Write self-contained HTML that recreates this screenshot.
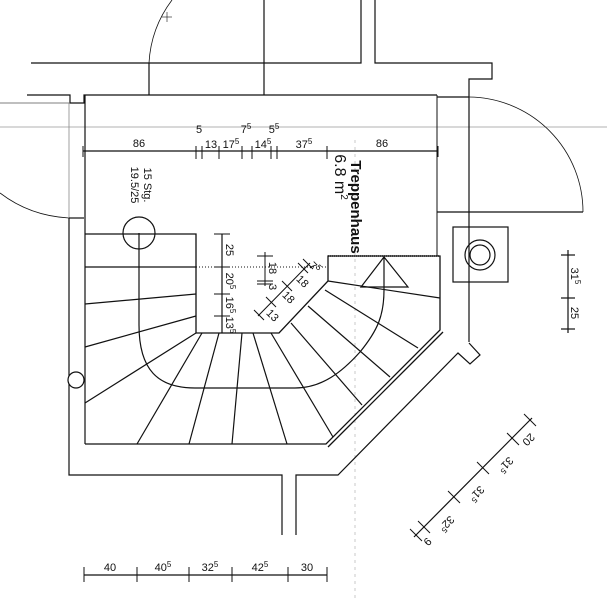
<!DOCTYPE html>
<html><head><meta charset="utf-8"><style>
html,body{margin:0;padding:0;background:#fff}
svg{display:block}
text{font-family:"Liberation Sans",sans-serif;fill:#111}
</style></head><body>
<svg width="607" height="608" viewBox="0 0 607 608" xmlns="http://www.w3.org/2000/svg">
<g fill="none" stroke="#111" stroke-width="1.2">
<line x1="0" y1="127" x2="607" y2="127" stroke="#999" stroke-width="0.8"/>
<line x1="355" y1="140" x2="355" y2="600" stroke="#bbb" stroke-width="0.8" stroke-dasharray="3,4"/>
<path d="M31,63 H361 V0"/>
<path d="M375,0 V63 H492 V79 H469 V342"/>
<line x1="264" y1="0" x2="264" y2="95"/>
<line x1="149" y1="63" x2="149" y2="95"/>
<path d="M149,63 A115,115 0 0 1 172,0" stroke-width="0.8"/>
<path d="M27,95 H70 V103 H84 V95 H437"/>
<line x1="0" y1="103" x2="70" y2="103" stroke-width="0.8" stroke="#555"/>
<path d="M0,193 Q30,216 69,218" stroke-width="0.8"/>
<line x1="69" y1="103" x2="69" y2="218" stroke="#888" stroke-width="0.8"/>
<line x1="69" y1="218" x2="84" y2="218"/>
<path d="M69,218 V475 H282 V535"/>
<line x1="85" y1="95" x2="85" y2="444"/>
<path d="M296,535 V475 H338 L458,353 L470,364 L480,355 L469,343"/>
<line x1="437" y1="97" x2="469" y2="97"/>
<path d="M469,97 A115,115 0 0 1 583,212" stroke-width="0.8"/>
<line x1="437" y1="212" x2="583" y2="212"/>
<line x1="437" y1="95" x2="437" y2="256" stroke-width="1"/>
<rect x="453" y="227" width="55" height="55"/>
<circle cx="480" cy="255" r="15"/>
<circle cx="480" cy="255" r="10"/>
<path d="M85,234 H196 V333 H279 L328,281 V256 H440 V330 L326,444 H85" stroke-width="1.3"/>
<line x1="328" y1="447" x2="443" y2="332" stroke-width="1.3"/>
<line x1="196" y1="267" x2="328" y2="267" stroke-dasharray="1,2" stroke-width="1"/>
<line x1="328" y1="256" x2="440" y2="256" stroke-dasharray="1,1" stroke-width="1.5"/>
<line x1="85" y1="267" x2="196" y2="267"/>
<line x1="85" y1="304" x2="196" y2="294"/>
<line x1="85" y1="347" x2="196" y2="316"/>
<line x1="85" y1="403" x2="196" y2="333"/>
<line x1="202" y1="333" x2="137" y2="444"/>
<line x1="219" y1="333" x2="189" y2="444"/>
<line x1="242" y1="333" x2="232" y2="444"/>
<line x1="253" y1="333" x2="287" y2="444"/>
<line x1="271" y1="333" x2="333" y2="437"/>
<line x1="291" y1="323" x2="362" y2="405"/>
<line x1="308" y1="306" x2="390" y2="377"/>
<line x1="325" y1="290" x2="418" y2="348"/>
<line x1="328" y1="281" x2="440" y2="298"/>
<polygon points="361,287 384,257 408,287"/>
<circle cx="139" cy="233" r="16"/>
<path d="M139,233 V325 C139,370 158,388 195,388 H295 C322,388 342,372 360,352 C378,330 384,315 384,290 V257"/>
<circle cx="76" cy="380" r="8" fill="#fff"/>
<line x1="83" y1="151" x2="438" y2="151"/>
<g stroke-width="1">
<line x1="83" y1="146" x2="83" y2="157"/><line x1="196" y1="146" x2="196" y2="159"/>
<line x1="202" y1="146" x2="202" y2="159"/><line x1="219" y1="146" x2="219" y2="159"/>
<line x1="242" y1="146" x2="242" y2="159"/><line x1="252" y1="146" x2="252" y2="159"/>
<line x1="271" y1="146" x2="271" y2="159"/><line x1="277" y1="146" x2="277" y2="159"/>
<line x1="327" y1="146" x2="327" y2="159"/><line x1="438" y1="146" x2="438" y2="157"/>
</g>
<line x1="222" y1="234" x2="222" y2="333"/>
<g stroke-width="1">
<line x1="214" y1="234" x2="230" y2="234"/><line x1="214" y1="267" x2="230" y2="267"/>
<line x1="214" y1="294" x2="230" y2="294"/><line x1="214" y1="316" x2="230" y2="316"/>
<line x1="214" y1="333" x2="230" y2="333"/>
<line x1="265" y1="252" x2="265" y2="286"/>
<line x1="257" y1="256" x2="273" y2="256"/><line x1="257" y1="281" x2="273" y2="281"/><line x1="257" y1="284" x2="273" y2="284"/>
<line x1="258" y1="316" x2="310" y2="263"/>
<line x1="254" y1="310" x2="264" y2="320"/><line x1="266" y1="297" x2="276" y2="307"/>
<line x1="282" y1="281" x2="292" y2="291"/><line x1="298" y1="263" x2="308" y2="273"/>
<line x1="303" y1="259" x2="313" y2="269"/>
</g>
<line x1="568" y1="250" x2="568" y2="333"/>
<line x1="561" y1="255" x2="575" y2="255"/><line x1="561" y1="298" x2="575" y2="298"/><line x1="561" y1="329" x2="575" y2="329"/>
<line x1="414" y1="537" x2="532" y2="418"/>
<g stroke-width="1">
<line x1="410" y1="529" x2="422" y2="541"/><line x1="418" y1="521" x2="430" y2="533"/>
<line x1="448" y1="491" x2="460" y2="503"/><line x1="477" y1="462" x2="489" y2="474"/>
<line x1="507" y1="433" x2="519" y2="445"/><line x1="524" y1="414" x2="536" y2="426"/>
</g>
<line x1="84" y1="575" x2="327" y2="575"/>
<g stroke-width="1">
<line x1="84" y1="567" x2="84" y2="582"/><line x1="137" y1="567" x2="137" y2="582"/>
<line x1="189" y1="567" x2="189" y2="582"/><line x1="232" y1="567" x2="232" y2="582"/>
<line x1="288" y1="567" x2="288" y2="582"/><line x1="327" y1="567" x2="327" y2="582"/>
</g>
<line x1="162" y1="17" x2="172" y2="17" stroke-width="0.6"/><line x1="167" y1="12" x2="167" y2="22" stroke-width="0.6"/>
</g>
<g font-size="11">
<text x="139" y="147" text-anchor="middle">86</text>
<text x="199" y="133" text-anchor="middle">5</text>
<text x="211" y="148" text-anchor="middle">13</text>
<text x="231" y="148" text-anchor="middle">17<tspan font-size="8" dy="-4">5</tspan></text>
<text x="246" y="133" text-anchor="middle">7<tspan font-size="8" dy="-4">5</tspan></text>
<text x="263" y="148" text-anchor="middle">14<tspan font-size="8" dy="-4">5</tspan></text>
<text x="274" y="133" text-anchor="middle">5<tspan font-size="8" dy="-4">5</tspan></text>
<text x="304" y="148" text-anchor="middle">37<tspan font-size="8" dy="-4">5</tspan></text>
<text x="382" y="147" text-anchor="middle">86</text>
<text x="110" y="571" text-anchor="middle">40</text>
<text x="163" y="571" text-anchor="middle">40<tspan font-size="8" dy="-4">5</tspan></text>
<text x="210" y="571" text-anchor="middle">32<tspan font-size="8" dy="-4">5</tspan></text>
<text x="260" y="571" text-anchor="middle">42<tspan font-size="8" dy="-4">5</tspan></text>
<text x="307" y="571" text-anchor="middle">30</text>
<text transform="translate(226,250) rotate(90)" text-anchor="middle">25</text>
<text transform="translate(226,281) rotate(90)" text-anchor="middle">20<tspan font-size="8" dy="-4">5</tspan></text>
<text transform="translate(226,305) rotate(90)" text-anchor="middle">16<tspan font-size="8" dy="-4">5</tspan></text>
<text transform="translate(226,325) rotate(90)" text-anchor="middle">13<tspan font-size="8" dy="-4">5</tspan></text>
<text transform="translate(269,268) rotate(90)" text-anchor="middle">18</text>
<text transform="translate(269,287) rotate(90)" text-anchor="middle">3</text>
<text transform="translate(270,318) rotate(45)" text-anchor="middle">13</text>
<text transform="translate(286,300) rotate(45)" text-anchor="middle">18</text>
<text transform="translate(300,284) rotate(45)" text-anchor="middle">18</text>
<text transform="translate(312,270) rotate(45)" text-anchor="middle">7<tspan font-size="8" dy="-4">5</tspan></text>
<text transform="translate(571,276) rotate(90)" text-anchor="middle">31<tspan font-size="8" dy="-4">5</tspan></text>
<text transform="translate(571,313) rotate(90)" text-anchor="middle">25</text>
<text transform="translate(425,539) rotate(135)" text-anchor="middle">9</text>
<text transform="translate(444,521) rotate(135)" text-anchor="middle">32<tspan font-size="8" dy="-4">5</tspan></text>
<text transform="translate(474,491) rotate(135)" text-anchor="middle">31<tspan font-size="8" dy="-4">5</tspan></text>
<text transform="translate(503,462) rotate(135)" text-anchor="middle">31<tspan font-size="8" dy="-4">5</tspan></text>
<text transform="translate(526,437) rotate(135)" text-anchor="middle">20</text>
<text transform="translate(144,185) rotate(90)" text-anchor="middle">15 Stg.</text>
<text transform="translate(131,185) rotate(90)" text-anchor="middle">19.5/25</text>
</g>
<text transform="translate(335,177) rotate(90)" text-anchor="middle" font-size="16">6.8 m<tspan font-size="10" dy="-6">2</tspan></text>
<text transform="translate(351,207) rotate(90)" text-anchor="middle" font-size="15" font-weight="bold">Treppenhaus</text>
</svg>
</body></html>
